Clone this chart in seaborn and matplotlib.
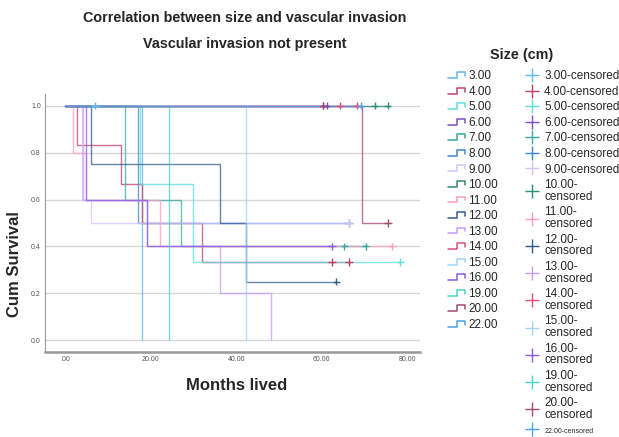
import pandas as pd
import matplotlib.pyplot as plt
import seaborn as sns
from matplotlib.lines import Line2D
from matplotlib.legend_handler import HandlerBase

# Grupos de tamaño (cm)
sizes = ['3.00', '4.00', '5.00', '6.00', '7.00', '8.00', '9.00', '10.00', '11.00',
         '12.00', '13.00', '14.00', '15.00', '16.00', '19.00', '20.00', '22.00']

colors = ['#62b8ec', '#c0406a', '#5fdede', '#7d4cc8', '#33aaa0', '#3a88d0', '#d6c2ff',
          '#2d8c7c', '#ff9cc0', '#2f5d8c', '#c49cff', '#e24d7c', '#9cd4ff', '#8d5ae0',
          '#45d6c8', '#a04a74', '#4aa0ea']

# Curvas escalonadas: tiempos (meses) y supervivencia acumulada
step_times = {
    '3.00': [0, 18.1], '4.00': [0, 2.9, 13, 18, 32, 66.4], '5.00': [0, 17.5, 30, 78.4],
    '6.00': [0, 61.2], '7.00': [0, 14, 27.2, 70.3], '8.00': [0, 17, 66.4],
    '9.00': [0, 4, 6, 66.4], '10.00': [0, 75.4], '11.00': [0, 1.9, 5, 22.2, 76.5],
    '12.00': [0, 6, 36.3, 42.3, 63.4], '13.00': [0, 4.2, 19.1, 36.3, 48.2],
    '14.00': [0, 68.2], '15.00': [0, 42.3], '16.00': [0, 4.8, 19.1, 62.4],
    '19.00': [0, 24.2], '20.00': [0, 69.4, 75.5], '22.00': [0, 69.2],
}
step_surv = {
    '3.00': [1, 0], '4.00': [1, .833, .667, .5, .333, .333], '5.00': [1, .667, .333, .333],
    '6.00': [1, 1], '7.00': [1, .6, .4, .4], '8.00': [1, .5, .5],
    '9.00': [1, .6, .5, .5], '10.00': [1, 1], '11.00': [1, .8, .6, .4, .4],
    '12.00': [1, .75, .5, .25, .25], '13.00': [1, .6, .4, .2, 0],
    '14.00': [1, 1], '15.00': [1, 0], '16.00': [1, .6, .4, .4],
    '19.00': [1, 0], '20.00': [1, .5, .5], '22.00': [1, 1],
}
# Casos censurados
cens_times = {
    '3.00': [7], '4.00': [62.4, 66.4], '5.00': [78.4], '6.00': [60.4, 61.2],
    '7.00': [65.3, 70.3], '8.00': [66.4], '9.00': [66.4], '10.00': [72.4, 75.4],
    '11.00': [76.5], '12.00': [63.4], '14.00': [64.3, 68.2], '16.00': [62.4],
    '20.00': [60.4, 75.5], '22.00': [69.2],
}
cens_surv = {
    '3.00': [1], '4.00': [.333, .333], '5.00': [.333], '6.00': [1, 1],
    '7.00': [.4, .4], '8.00': [.5], '9.00': [.5], '10.00': [1, 1],
    '11.00': [.4], '12.00': [.25], '14.00': [1, 1], '16.00': [.4],
    '20.00': [1, .5], '22.00': [1],
}

palette = dict(zip(sizes, colors))

rows = []
for s in sizes:
    for t, v in zip(step_times[s], step_surv[s]):
        rows.append({'size': s, 'months': t, 'surv': v})
df_steps = pd.DataFrame(rows)

rows = []
for s in cens_times:
    for t, v in zip(cens_times[s], cens_surv[s]):
        rows.append({'size': s, 'months': t, 'surv': v})
df_cens = pd.DataFrame(rows)

sns.set_style('white')
plt.rcParams['font.family'] = ['Liberation Sans', 'DejaVu Sans']

fig = plt.figure(figsize=(6.19, 4.37), dpi=100)
ax = fig.add_axes([45 / 619, 85 / 437, 375 / 619, 258 / 437])

sns.lineplot(data=df_steps, x='months', y='surv', hue='size', palette=palette,
             hue_order=sizes, estimator=None, drawstyle='steps-post', linewidth=1.0,
             alpha=0.75, legend=False, ax=ax)
sns.scatterplot(data=df_cens, x='months', y='surv', hue='size', palette=palette,
                marker='+', s=28, linewidth=1.0, legend=False, ax=ax, zorder=5)

ax.set_xlim(-4.7, 83)
ax.set_ylim(-0.05, 1.05)
ax.set_xticks([0, 20, 40, 60, 80])
ax.set_xticklabels(['.00', '20.00', '40.00', '60.00', '80.00'])
ax.set_yticks([0, 0.2, 0.4, 0.6, 0.8, 1.0])
ax.set_yticklabels(['0.0', '0.2', '0.4', '0.6', '0.8', '1.0'])
ax.tick_params(labelsize=5, colors='#555555', length=0, pad=3)
ax.yaxis.grid(True, color='#d8d8d8', linewidth=1)
ax.set_axisbelow(True)
for side in ['top', 'right']:
    ax.spines[side].set_visible(False)
ax.spines['left'].set_color('#999999')
ax.spines['left'].set_linewidth(0.8)
ax.spines['bottom'].set_color('#999999')
ax.spines['bottom'].set_linewidth(1.8)
ax.set_xlabel('Months lived', fontsize=12, fontweight='bold')
ax.set_ylabel('Cum Survival', fontsize=12, fontweight='bold')
ax.xaxis.set_label_coords(0.512, -0.10)
ax.yaxis.set_label_coords(-0.062, 0.34)

fig.text(245 / 619, 1 - 18 / 437, 'Correlation between size and vascular invasion',
         ha='center', va='center', fontsize=10.4, fontweight='bold')
fig.text(245 / 619, 1 - 44 / 437, 'Vascular invasion not present',
         ha='center', va='center', fontsize=10.4, fontweight='bold')
fig.text(522 / 619, 1 - 55 / 437, 'Size (cm)', ha='center', va='center',
         fontsize=10.4, fontweight='bold')


# Icono escalonado de la leyenda
class StepHandler(HandlerBase):
    def create_artists(self, legend, orig_handle, xdescent, ydescent, width, height,
                       fontsize, trans):
        x0, x1 = -xdescent, -xdescent + width
        xm = x0 + width * 0.55
        lo, hi = -ydescent + height * 0.15, -ydescent + height * 0.85
        ln = Line2D([x0, xm, xm, x1, x1], [lo, lo, hi, hi, lo + (hi - lo) * 0.35],
                    color=orig_handle.get_color(), linewidth=1.1, transform=trans)
        return [ln]


step_handles = [Line2D([], [], color=palette[s]) for s in sizes]
cens_handles = [Line2D([], [], color=palette[s], marker='+', linestyle='none',
                       markersize=10, markeredgewidth=1.0) for s in sizes]
labels_left = sizes
labels_right = []
for s in sizes:
    if float(s) >= 10 and s != '22.00':
        labels_right.append(s + '-\ncensored')
    else:
        labels_right.append(s + '-censored')

handler_map = {h: StepHandler() for h in step_handles}
leg = fig.legend(step_handles + cens_handles, labels_left + labels_right, ncol=2,
                 loc='upper left', bbox_to_anchor=(440 / 619, 1 - 62 / 437),
                 frameon=False, fontsize=8.5, handler_map=handler_map,
                 handlelength=1.4, handletextpad=0.3, labelspacing=0.3,
                 columnspacing=2.2, borderpad=0.2)
for t in leg.get_texts():
    t.set_linespacing(0.97)
leg.get_texts()[-1].set_fontsize(5)

fig.savefig('out.png', dpi=100)
